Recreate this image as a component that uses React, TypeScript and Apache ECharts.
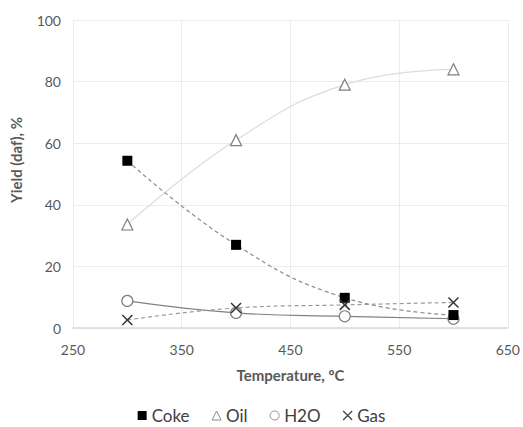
import React, { useEffect, useRef } from "react";
import * as echarts from "echarts";

const temps = [300, 400, 500, 600];
const coke = [54.3, 27, 9.8, 4.2];
const oil = [33.6, 61, 79, 84];
const h2o = [8.8, 4.9, 3.8, 3];
const gas = [2.6, 6.5, 7.5, 8.3];
const seriesNames = ["Coke", "Oil", "H2O", "Gas"];

const FONT = 'Lato, "Open Sans", "Liberation Sans", sans-serif';
const CROSS = "path://M0,0L10,10M10,0L0,10";

const pairs = (ys: number[]) => temps.map((t, i) => [t, ys[i]]);

export default function App() {
  const ref = useRef<HTMLDivElement>(null);
  useEffect(() => {
    if (!ref.current) return;
    const chart = echarts.init(ref.current, null, { renderer: "svg" });
    chart.setOption({
      animation: false,
      backgroundColor: "#ffffff",
      textStyle: { fontFamily: FONT },
      grid: { left: 73, right: 15, top: 20, bottom: 99 },
      xAxis: {
        type: "value",
        min: 250,
        max: 650,
        interval: 100,
        name: "Temperature, ºC",
        nameLocation: "middle",
        nameGap: 39,
        nameTextStyle: { fontFamily: FONT, fontSize: 15, fontWeight: "bold", color: "#595959" },
        axisLine: { show: true, lineStyle: { color: "#d9d9d9", width: 1.5 } },
        axisTick: { show: false },
        axisLabel: { color: "#595959", fontSize: 14, margin: 14, fontFamily: FONT },
        splitLine: { show: true, lineStyle: { color: "#ececec", width: 1 } },
      },
      yAxis: {
        type: "value",
        min: 0,
        max: 100,
        interval: 20,
        name: "Yield (daf), %",
        nameLocation: "middle",
        nameGap: 50,
        nameTextStyle: { fontFamily: FONT, fontSize: 15, fontWeight: "bold", color: "#595959", padding: [0, 0, 0, 28] },
        axisLine: { show: false },
        axisTick: { show: false },
        axisLabel: { color: "#595959", fontSize: 14, margin: 12, fontFamily: FONT },
        splitLine: { show: true, lineStyle: { color: "#ececec", width: 1 } },
      },
      legend: {
        top: 402,
        left: "center",
        itemWidth: 9,
        itemHeight: 9,
        itemGap: 22,
        textStyle: { fontFamily: FONT, fontSize: 17, color: "#404040" },
        data: [
          { name: seriesNames[0], icon: "rect", itemStyle: { color: "#000", borderWidth: 0 } },
          { name: seriesNames[1], icon: "triangle", itemStyle: { color: "#fff", borderColor: "#8c8c8c", borderWidth: 1 } },
          { name: seriesNames[2], icon: "circle", itemStyle: { color: "#fff", borderColor: "#8c8c8c", borderWidth: 1 } },
          { name: seriesNames[3], icon: CROSS, itemStyle: { color: "#404040", borderColor: "#404040", borderWidth: 1.2 } },
        ],
      },
      series: [
        {
          name: seriesNames[0],
          type: "line",
          data: pairs(coke),
          smooth: 0.45,
          symbol: "rect",
          symbolSize: 10,
          itemStyle: { color: "#000", borderWidth: 0 },
          lineStyle: { color: "#8c8c8c", width: 1.2, type: [4, 3] },
          z: 4,
        },
        {
          name: seriesNames[1],
          type: "line",
          data: pairs(oil),
          smooth: 0.45,
          symbol: "triangle",
          symbolSize: 11,
          itemStyle: { color: "#fff", borderColor: "#7f7f7f", borderWidth: 1.2 },
          lineStyle: { color: "#dcdcdc", width: 1.2 },
          z: 2,
        },
        {
          name: seriesNames[2],
          type: "line",
          data: pairs(h2o),
          smooth: 0.45,
          symbol: "circle",
          symbolSize: 11,
          itemStyle: { color: "#fff", borderColor: "#7f7f7f", borderWidth: 1.2 },
          lineStyle: { color: "#808080", width: 1.2 },
          z: 3,
        },
        {
          name: seriesNames[3],
          type: "line",
          data: pairs(gas),
          smooth: 0.45,
          symbol: CROSS,
          symbolSize: 10,
          itemStyle: { color: "#333", borderColor: "#333", borderWidth: 1.5 },
          lineStyle: { color: "#999999", width: 1.2, type: [4, 3] },
          z: 5,
        },
      ],
    });
    return () => chart.dispose();
  }, []);
  return (
    <div
      ref={ref}
      style={{ position: "fixed", left: 0, top: 0, width: 523, height: 427, background: "#fff" }}
    />
  );
}
